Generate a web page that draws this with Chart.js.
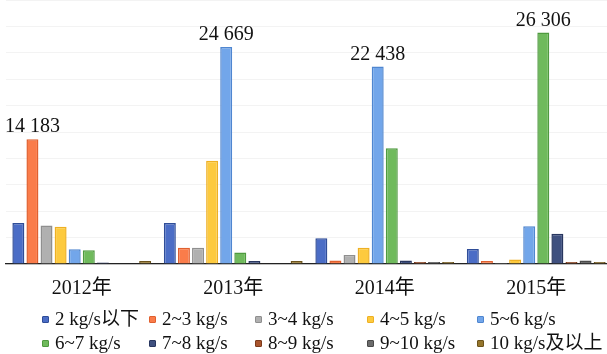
<!DOCTYPE html>
<html>
<head>
<meta charset="utf-8">
<script src="https://cdn.jsdelivr.net/npm/chart.js@4"></script>
<style>
  html, body { margin: 0; padding: 0; background: #fff; overflow: hidden; width: 607px; height: 354px; }
  #wrap { position: absolute; left: 0; top: 0; width: 612px; height: 314px; }
  #legend { position: absolute; left: 42px; top: 307px; display: grid;
    grid-template-columns: 107px 106px 112px 110px 130px; grid-auto-rows: 24px;
    font-family: 'Times New Roman', 'Liberation Serif', 'DejaVu Serif', 'Noto Sans CJK SC', serif; font-size: 19px; color: #111; line-height: 24px; white-space: nowrap; }
  #legend .it { display: flex; align-items: center; }
  #legend .bx { display: inline-block; width: 5px; height: 5px; border-radius: 1px; margin-right: 6px; border: 1px solid; }
</style>
</head>
<body>
<div id="wrap"><canvas id="c"></canvas></div>
<div id="legend"></div>
<script>
const categories = ['2012年', '2013年', '2014年', '2015年'];
const seriesNames = ['2 kg/s以下', '2~3 kg/s', '3~4 kg/s', '4~5 kg/s', '5~6 kg/s',
                     '6~7 kg/s', '7~8 kg/s', '8~9 kg/s', '9~10 kg/s', '10 kg/s及以上'];
const s_below2 = [4650, 4650, 2920, 1710];
const s_2to3   = [14183, 1860, 410, 340];
const s_3to4   = [4370, 1860, 1030, 100];
const s_4to5   = [4220, 11740, 1860, 525];
const s_5to6   = [1670, 24669, 22438, 4290];
const s_6to7   = [1550, 1320, 13140, 26306];
const s_7to8   = [180, 340, 410, 3450];
const s_8to9   = [0, 0, 230, 230];
const s_9to10  = [0, 0, 230, 410];
const s_10up   = [340, 340, 230, 230];
const seriesValues = [s_below2, s_2to3, s_3to4, s_4to5, s_5to6, s_6to7, s_7to8, s_8to9, s_9to10, s_10up];
const yTicks = { min: 0, max: 30000, step: 3000 };

const fills   = ['#4b6dc6', '#fa7c4a', '#b0b0b0', '#fdca3e', '#72a6ea', '#6fba5c', '#3f507f', '#a9552d', '#6b6b6b', '#95752b'];
const borders = ['#2f4d98', '#e0602f', '#8f8f8f', '#eeb023', '#4f86d0', '#4f9a3f', '#28365f', '#7d3b1c', '#4a4a4a', '#6c531b'];

const FONT = "'Times New Roman', 'Liberation Serif', 'DejaVu Serif', 'Noto Sans CJK SC', serif";

function fmt(v) { return String(v).replace(/\B(?=(\d{3})+(?!\d))/g, ' '); }

const maxLabelPlugin = {
  id: 'maxLabel',
  afterDatasetsDraw(chart) {
    const ctx = chart.ctx;
    ctx.save();
    ctx.font = '20px ' + FONT;
    ctx.fillStyle = '#111';
    ctx.textAlign = 'center';
    ctx.textBaseline = 'alphabetic';
    categories.forEach((c, i) => {
      let best = 0, bi = 0;
      chart.data.datasets.forEach((ds, d) => { if (ds.data[i] > best) { best = ds.data[i]; bi = d; } });
      const el = chart.getDatasetMeta(bi).data[i];
      ctx.fillText(fmt(best), el.x, el.y - 7);
    });
    ctx.restore();
  }
};

new Chart(document.getElementById('c'), {
  type: 'bar',
  data: {
    labels: categories,
    datasets: seriesNames.map((n, k) => ({
      label: n,
      data: seriesValues[k],
      backgroundColor: fills[k],
      borderColor: borders[k],
      borderWidth: 1.5,
      borderSkipped: 'start',
      categoryPercentage: 0.93,
      barPercentage: 0.85
    }))
  },
  options: {
    responsive: true,
    maintainAspectRatio: false,
    animation: false,
    layout: { padding: { left: 6, right: 0, top: 0, bottom: 0 } },
    plugins: { legend: { display: false }, tooltip: { enabled: false } },
    scales: {
      x: {
        grid: { display: false, drawTicks: false },
        border: { display: true, color: '#222', width: 1.2 },
        ticks: { color: '#111', font: { family: FONT, size: 20 }, padding: 13 }
      },
      y: {
        min: yTicks.min, max: yTicks.max,
        ticks: { display: false, stepSize: yTicks.step },
        grid: { color: '#f3f3f3', drawTicks: false },
        border: { display: false }
      }
    }
  },
  plugins: [maxLabelPlugin]
});

const lg = document.getElementById('legend');
seriesNames.forEach((n, k) => {
  const it = document.createElement('div');
  it.className = 'it';
  const bx = document.createElement('span');
  bx.className = 'bx';
  bx.style.background = fills[k];
  bx.style.borderColor = borders[k];
  const tx = document.createElement('span');
  tx.textContent = n;
  it.appendChild(bx); it.appendChild(tx);
  lg.appendChild(it);
});
</script>
</body>
</html>
